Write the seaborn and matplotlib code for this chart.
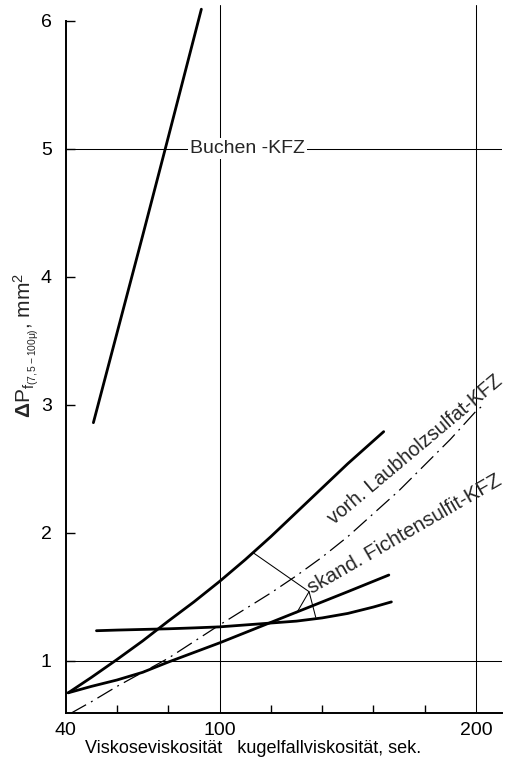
import matplotlib
matplotlib.use('Agg')
import matplotlib.pyplot as plt
import seaborn as sns
from matplotlib.ticker import FixedLocator, NullFormatter

# Values (x: Viskoseviskosität / Kugelfallviskosität, sek.; y: delta P, mm^2)
buchen_x = [50.8, 60, 70, 80, 92.9]
buchen_y = [2.86, 3.56, 4.32, 5.09, 6.09]

upper_x = [41, 50, 60, 70, 80, 90, 100, 110, 120, 130, 140, 150, 164]
upper_y = [0.75, 0.87, 1.01, 1.155, 1.31, 1.46, 1.62, 1.79, 1.97, 2.16, 2.35, 2.54, 2.79]

middle_x = [41, 50, 60, 70, 80, 90, 100, 110, 120, 130, 140, 150, 166]
middle_y = [0.75, 0.80, 0.85, 0.91, 0.99, 1.065, 1.14, 1.22, 1.30, 1.38, 1.46, 1.54, 1.67]

flat_x = [52, 60, 70, 80, 90, 100, 110, 120, 130, 140, 150, 160, 167]
flat_y = [1.235, 1.24, 1.245, 1.25, 1.257, 1.265, 1.28, 1.295, 1.31, 1.335, 1.37, 1.42, 1.46]

laub_x = [42, 50, 60, 70, 80, 90, 100, 110, 120, 130, 140, 150, 160, 170, 180, 190, 200, 203]
laub_y = [0.59, 0.68, 0.80, 0.91, 1.02, 1.15, 1.28, 1.405, 1.53, 1.665, 1.81, 1.97, 2.15,
          2.33, 2.53, 2.73, 2.95, 3.0]

# leader lines of the "skand." label
leader_a_x = [113.4, 134.9, 130.1]
leader_a_y = [1.84, 1.54, 1.375]
leader_b_x = [134.9, 137.5]
leader_b_y = [1.54, 1.34]

grid_y = [1, 5]
grid_x = [100, 200]
xticks_major = [40, 100, 200]
xticks_minor = [60, 80, 120, 140, 160, 180]
yticks = [1, 2, 3, 4, 5, 6]

FONT = ['Liberation Sans', 'DejaVu Sans']
CURVE_LW = 2.0
THIN_LW = 0.75

sns.set_theme(style='white')
plt.rcParams['font.family'] = FONT
plt.rcParams['mathtext.fontset'] = 'custom'
plt.rcParams['mathtext.rm'] = 'Liberation Sans'
plt.rcParams['mathtext.it'] = 'Liberation Sans'
plt.rcParams['mathtext.bf'] = 'Liberation Sans:bold'

fig = plt.figure(figsize=(5.14, 7.65), dpi=100)
ax = fig.add_axes([0.1278, 0.0676, 0.8482, 0.9254])

# grid lines (only the few drawn in the original)
for gy in grid_y:
    ax.axhline(gy, color='black', lw=THIN_LW, zorder=1)
for gx in grid_x:
    ax.axvline(gx, color='black', lw=THIN_LW, zorder=1)

# solid curves
for xs, ys in [(buchen_x, buchen_y), (upper_x, upper_y), (middle_x, middle_y), (flat_x, flat_y)]:
    sns.lineplot(x=xs, y=ys, ax=ax, color='black', linewidth=CURVE_LW,
                 estimator=None, sort=False, zorder=3)

# dash-dot curve
sns.lineplot(x=laub_x, y=laub_y, ax=ax, color='black', linewidth=0.9,
             linestyle=(0, (14, 4.5, 1.5, 4.5)), estimator=None, sort=False, zorder=3)

# leaders
for xs, ys in [(leader_a_x, leader_a_y), (leader_b_x, leader_b_y)]:
    sns.lineplot(x=xs, y=ys, ax=ax, color='black', linewidth=THIN_LW,
                 estimator=None, sort=False, zorder=3)

# labels on the curves
ax.text(88.6, 5.0, 'Buchen -KFZ', fontsize=14, ha='left', va='center', zorder=4,
        bbox=dict(facecolor='white', edgecolor='none', pad=1.5))
ax.text(144.8, 2.06, 'vorh. Laubholzsulfat-KFZ', fontsize=14.2, rotation=40,
        rotation_mode='anchor', ha='left', va='baseline', zorder=4)
ax.text(136.0, 1.52, 'skand. Fichtensulfit-KFZ', fontsize=14.8, rotation=30,
        rotation_mode='anchor', ha='left', va='baseline', zorder=4)

ax.set_xlim(40, 210)
ax.set_ylim(0.59, 6.12)

ax.xaxis.set_major_locator(FixedLocator(xticks_major))
ax.xaxis.set_minor_locator(FixedLocator(xticks_minor))
ax.xaxis.set_minor_formatter(NullFormatter())
ax.set_xticklabels([str(v) for v in xticks_major])
ax.yaxis.set_major_locator(FixedLocator(yticks))
ax.set_yticklabels([str(v) for v in yticks])

ax.tick_params(axis='x', which='major', length=0, pad=6, labelsize=14, colors='black')
ax.tick_params(axis='x', which='minor', direction='in', length=5.8, width=1.0,
               color='black', bottom=True)
ax.tick_params(axis='y', which='major', direction='in', length=6.5, width=1.0,
               pad=10, labelsize=14, colors='black', left=True)

for side in ['top', 'right']:
    ax.spines[side].set_visible(False)
for side in ['left', 'bottom']:
    ax.spines[side].set_color('black')
    ax.spines[side].set_linewidth(1.4)
ax.spines['left'].set_bounds(0.59, 6.0)

ax.set_xlabel('Viskoseviskosität   kugelfallviskosität, sek.', fontsize=13, color='black')
ax.xaxis.set_label_coords(0.43, -0.038)
ax.text(-0.091, 0.52, r'$\mathbf{Δ}\mathrm{P}_{\mathrm{f}_{(7,5-100μ)}}$, mm$^2$',
        transform=ax.transAxes, rotation=90, ha='center', va='center', fontsize=15)

fig.savefig('out.png', dpi=100)
